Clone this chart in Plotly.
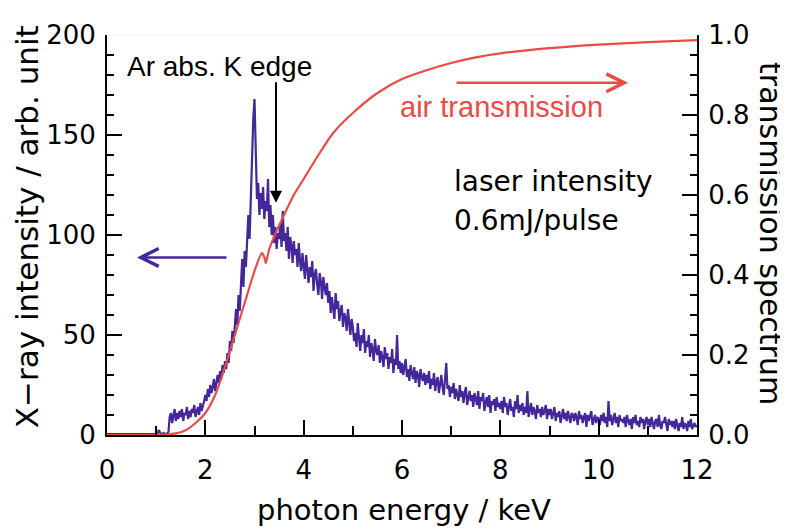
import plotly.graph_objects as go

# ---- data ----
# X-ray spectrum, sampled every 0.025 keV from 1.000 to 12.000 keV (one row = 0.5 keV)
spec_start = 1.0
spec_step = 0.025
intensity = [
    0.5, 0.5, 2.5, 1.5, 0.5, 0.5, 1, 0.5, 0.5, 1, 1.5, 9, 11, 6, 10, 13, 7, 11, 8, 12,          # 1.0
    9, 13, 7, 11, 10, 14, 8, 12, 9, 13, 11, 15, 9, 12, 14, 10, 16, 12, 14, 17,                 # 1.5
    20, 17, 23, 19, 25, 21, 24, 28, 22, 27, 30, 26, 32, 28, 35, 31, 37, 33, 41, 36,            # 2.0
    47, 42, 52, 46, 56, 63, 55, 70, 62, 80, 88, 74, 92, 84, 102, 110, 98, 120, 131, 158,       # 2.5
    168, 142, 118, 126, 110, 121, 113, 124, 108, 117, 112, 128, 104, 115, 100, 110, 96, 104, 93, 101,  # 3.0
    98, 106, 94, 112, 97, 101, 92, 104, 88, 99, 95, 86, 97, 90, 93, 84, 96, 87, 82, 91,        # 3.5
    85, 78, 90, 81, 76, 84, 79, 87, 72, 80, 83, 75, 70, 81, 77, 68, 79, 74, 70, 76,            # 4.0
    66, 72, 61, 69, 64, 58, 71, 63, 67, 57, 62, 65, 54, 61, 59, 52, 63, 56, 50, 58,            # 4.5
    54, 47, 51, 44, 56, 49, 42, 50, 46, 53, 41, 47, 44, 50, 39, 46, 43, 37, 48, 42,            # 5.0
    40, 45, 36, 42, 39, 34, 44, 38, 41, 33, 39, 36, 43, 31, 38, 35, 50, 33, 37, 31,            # 5.5
    36, 30, 34, 38, 29, 33, 27, 35, 31, 28, 34, 26, 32, 30, 24, 33, 29, 27, 31, 25,            # 6.0
    30, 26, 32, 23, 28, 25, 31, 22, 27, 29, 21, 26, 30, 24, 20, 28, 36, 23, 25, 19,            # 6.5
    24, 21, 26, 18, 23, 20, 17, 25, 19, 22, 16, 21, 24, 15, 19, 22, 17, 20, 14, 21,            # 7.0
    18, 15, 22, 13, 19, 17, 21, 12, 16, 19, 14, 20, 11, 17, 15, 18, 12, 19, 14, 16,            # 7.5
    13, 17, 11, 19, 14, 16, 10, 15, 18, 12, 14, 9, 17, 13, 20, 11, 15, 12, 16, 10,             # 8.0
    14, 11, 22, 9, 13, 16, 10, 14, 12, 8, 15, 11, 13, 9, 14, 10, 12, 15, 8, 13,                # 8.5
    10, 13, 8, 12, 14, 7, 11, 9, 12, 6, 10, 13, 8, 11, 7, 12, 9, 6, 11, 10,                    # 9.0
    7, 11, 9, 5, 12, 8, 10, 6, 9, 11, 4, 10, 7, 9, 12, 5, 8, 10, 6, 9,                         # 9.5
    8, 5, 10, 7, 11, 6, 9, 4, 17, 7, 10, 5, 8, 11, 6, 9, 4, 10, 7, 8,                          # 10.0
    6, 9, 4, 10, 7, 5, 8, 3, 9, 6, 10, 5, 7, 4, 9, 6, 8, 3, 7, 9,                              # 10.5
    5, 8, 4, 9, 6, 3, 7, 8, 4, 10, 5, 3, 7, 6, 9, 4, 2, 8, 5, 7,                               # 11.0
    4, 7, 3, 8, 5, 2, 6, 4, 9, 3, 6, 5, 2, 7, 4, 8, 3, 5, 6, 4,                                # 11.5
    5,                                                                                          # 12.0
]
baseline_energy = [0.0, 0.5, 0.975]
baseline_intensity = [0.5, 0.5, 0.5]

# air transmission curve
trans_energy = [0, 1.0, 1.2, 1.4, 1.6, 1.8, 2.0, 2.2, 2.4, 2.6, 2.8, 3.0, 3.15,
                3.2, 3.23, 3.3, 3.45, 3.6, 3.8, 4.0, 4.3, 4.6, 5.0, 5.5, 6.0,
                6.5, 7.0, 7.5, 8.0, 9.0, 10.0, 11.0, 12.0]
transmission = [0, 0, 0.001, 0.004, 0.012, 0.03, 0.055, 0.1, 0.17, 0.25, 0.33,
                0.41, 0.455, 0.445, 0.43, 0.465, 0.51, 0.55, 0.60, 0.64, 0.70,
                0.755, 0.805, 0.855, 0.89, 0.912, 0.93, 0.944, 0.954, 0.967,
                0.976, 0.982, 0.987]

x_ticks = [0, 2, 4, 6, 8, 10, 12]
y_ticks = [0, 50, 100, 150, 200]
y2_ticks = [0.0, 0.2, 0.4, 0.6, 0.8, 1.0]
y2_labels = ["0.0", "0.2", "0.4", "0.6", "0.8", "1.0"]

spec_energy = baseline_energy + [round(spec_start + spec_step * i, 3) for i in range(len(intensity))]
spec_values = baseline_intensity + intensity

PURPLE = "#44279a"
RED = "#ec4a44"
TXT = "DejaVu Sans"
HEL = "Liberation Sans"

fig = go.Figure()
fig.add_trace(go.Scatter(x=spec_energy, y=spec_values, mode="lines",
                         line=dict(color=PURPLE, width=2.2), yaxis="y", showlegend=False))
fig.add_trace(go.Scatter(x=trans_energy, y=transmission, mode="lines",
                         line=dict(color=RED, width=2.2, shape="spline", smoothing=0.6),
                         yaxis="y2", showlegend=False))

# plot-area edges in reference-window pixels; the page body adds an 8px offset
O = 8
L, R, T, B = 107, 697, 25, 435
W, H = 788, 530

def px(xp):
    return (xp - L) / (R - L)

def py(yp):
    return (B - yp) / (B - T)

tickfont = dict(family=TXT, size=26, color="black")
common = dict(showgrid=False, zeroline=False, showline=True, linecolor="black", linewidth=2,
              ticks="inside", tickcolor="black", tickwidth=2, ticklen=15, tickfont=tickfont)

fig.update_layout(
    width=W - O, height=H - O,
    margin=dict(l=L - O, r=W - R, t=T - O, b=H - B, pad=0),
    paper_bgcolor="white", plot_bgcolor="white",
    xaxis=dict(range=[0, 12], tickvals=x_ticks, ticklabelstandoff=11,
               minor=dict(dtick=1, ticks="inside", ticklen=9, tickcolor="black", tickwidth=2),
               **common),
    yaxis=dict(range=[0, 200], tickvals=y_ticks, ticklabelstandoff=4,
               minor=dict(dtick=10, ticks="inside", ticklen=7, tickcolor="black", tickwidth=2),
               **common),
    yaxis2=dict(range=[0, 1], tickvals=y2_ticks, ticktext=y2_labels, overlaying="y", side="right",
                ticklabelstandoff=4,
                minor=dict(dtick=0.05, ticks="inside", ticklen=7, tickcolor="black", tickwidth=2),
                **common),
)

# faint top frame line
fig.add_shape(type="line", xref="paper", yref="paper", x0=0, x1=1, y0=1, y1=1,
              line=dict(color="#eeeeee", width=1))

def label(text, x, y, font, xanchor="center", angle=0):
    return dict(text=text, xref="paper", yref="paper", x=px(x), y=py(y), textangle=angle,
                showarrow=False, font=font, xanchor=xanchor, yanchor="middle")

ann = [
    label("X\u2212ray intensity / arb. unit", 27, 222, dict(family=TXT, size=31, color="black"), angle=-90),
    label("transmission spectrum", 771, 228, dict(family=TXT, size=30, color="black"), angle=90),
    label("photon energy / keV", 404, 512, dict(family=TXT, size=29, color="black")),
    label("Ar abs. K edge", 219, 57, dict(family=HEL, size=28, color="black")),
    label("air transmission", 501, 99, dict(family=HEL, size=29, color=RED)),
    label("laser intensity", 452, 175, dict(family=TXT, size=28, color="black"), xanchor="left"),
    label("0.6mJ/pulse", 452, 215, dict(family=TXT, size=28, color="black"), xanchor="left"),
]
# arrows (head position, tail offset in pixels)
ann.append(dict(text="", xref="paper", yref="paper", x=px(276), y=py(197),
                ax=0, ay=-122, showarrow=True,
                arrowhead=2, arrowsize=1.2, arrowwidth=2, arrowcolor="black"))
ann.append(dict(text="", xref="paper", yref="paper", x=px(628), y=py(74),
                ax=-173, ay=0, showarrow=True,
                arrowhead=5, arrowsize=1.4, arrowwidth=2.5, arrowcolor=RED))
ann.append(dict(text="", xref="paper", yref="paper", x=px(137), y=py(253),
                ax=91, ay=0, showarrow=True,
                arrowhead=5, arrowsize=1.4, arrowwidth=2.5, arrowcolor=PURPLE))
fig.update_layout(annotations=ann)

fig.write_html("out.html")
